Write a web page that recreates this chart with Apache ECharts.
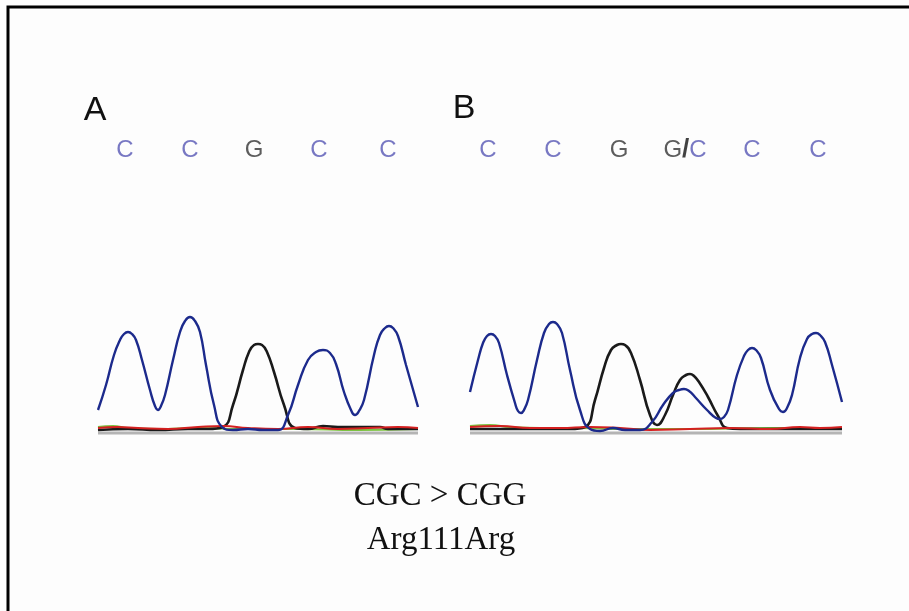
<!DOCTYPE html>
<html>
<head>
<meta charset="utf-8">
<script src="https://cdn.jsdelivr.net/npm/echarts@6/dist/echarts.min.js"></script>
<style>
  html, body { margin: 0; padding: 0; background: #fdfdfd; }
  #chart { width: 909px; height: 611px; }
</style>
</head>
<body>
<div id="chart"></div>
<script>
// base calls above each trace, with their position along the trace
const callsA = ["C", "C", "G", "C", "C"];
const callPosA = [27, 92, 156, 221, 290];
const callsB = ["C", "C", "G", "G/C", "C", "C"];
const callPosB = [18, 83, 149, 215, 282, 348];

// panel A traces [position, signal]
const blueA = [[0, 20], [8, 45], [16, 75], [22, 90], [26, 96], [30, 98], [34, 96], [38, 90], [44, 70],
  [52, 40], [57, 24], [60, 20], [63, 24], [67, 35], [75, 70], [82, 98], [87, 109], [92, 113],
  [97, 109], [102, 98], [108, 65], [116, 25], [124, 3], [135, 0], [150, 1], [165, 0], [180, 0],
  [190, 15], [200, 45], [210, 70], [218, 78], [225, 80], [232, 77], [238, 66], [246, 38],
  [253, 20], [257, 15], [261, 19], [266, 30], [276, 75], [282, 95], [287, 102], [291, 104],
  [295, 102], [300, 94], [308, 65], [320, 23]];
const blackA = [[0, 0], [30, 1], [60, 0], [90, 1], [110, 1], [125, 3], [135, 25], [145, 60], [151, 78],
  [156, 85], [160, 86], [164, 85], [169, 78], [176, 58], [186, 25], [197, 2], [210, 1], [225, 4],
  [240, 3], [260, 3], [282, 3], [290, 1], [320, 1]];
const redA = [[0, 2], [20, 3], [40, 2], [70, 1], [100, 3], [125, 4], [150, 2], [180, 1], [210, 3],
  [240, 1], [270, 2], [300, 3], [320, 2]];
const greenA = [[0, 3], [15, 4], [30, 2], [60, 1], [100, 2], [140, 1], [200, 1], [260, 0], [320, 1]];

// panel B traces [position, signal]
const blueB = [[0, 38], [8, 70], [13, 87], [17, 94], [21, 96], [25, 94], [29, 87], [37, 55], [45, 27],
  [48, 19], [51, 17], [54, 20], [58, 30], [67, 70], [74, 97], [79, 106], [83, 108], [87, 106],
  [92, 97], [100, 60], [110, 20], [120, 1], [130, -1], [143, 2], [155, 0], [170, 0], [182, 8],
  [193, 25], [203, 37], [209, 40], [214, 41], [219, 39], [225, 33], [237, 20], [246, 12],
  [250, 11], [254, 13], [258, 20], [267, 55], [274, 74], [278, 80], [282, 82], [286, 80],
  [291, 72], [300, 40], [309, 21], [313, 18], [317, 22], [322, 35], [330, 72], [337, 91],
  [342, 96], [346, 97], [350, 95], [355, 88], [362, 65], [372, 28]];
const blackB = [[0, 1], [50, 1], [100, 1], [115, 3], [125, 30], [134, 62], [141, 80], [147, 85],
  [151, 86], [155, 85], [161, 77], [170, 50], [180, 15], [187, 5], [195, 15], [203, 35],
  [210, 50], [216, 55], [220, 56], [224, 54], [229, 48], [238, 33], [248, 14], [257, 2],
  [270, 1], [372, 1]];
const redB = [[0, 3], [30, 4], [60, 2], [90, 2], [120, 3], [150, 2], [180, 0], [220, 1], [260, 2],
  [300, 1], [330, 3], [350, 2], [372, 3]];
const greenB = [[0, 4], [20, 5], [40, 3], [70, 2], [110, 2], [150, 1], [220, 1], [300, 2], [372, 2]];

const chart = echarts.init(document.getElementById("chart"));

function trace(idx, data, color, width) {
  return {
    type: "line", xAxisIndex: idx, yAxisIndex: idx, data: data, smooth: 0.5,
    symbol: "none", silent: true, lineStyle: { color: color, width: width }
  };
}

function callSeries(idx, calls, pos) {
  return {
    type: "scatter", xAxisIndex: idx, yAxisIndex: idx, symbolSize: 1, silent: true,
    itemStyle: { color: "transparent" },
    data: calls.map((c, i) => ({ value: [pos[i], 280], name: c })),
    label: {
      show: true, position: "inside", fontFamily: "Liberation Sans", fontSize: 24,
      formatter: p => {
        if (p.name === "G/C") return "{g|G}{s|/}{c|C}";
        return p.name === "G" ? "{g|G}" : "{c|C}";
      },
      rich: {
        g: { color: "#333333", fontSize: 24, fontFamily: "Liberation Sans" },
        c: { color: "#5656b4", fontSize: 24, fontFamily: "Liberation Sans" },
        s: { color: "#111111", fontSize: 26, fontWeight: "bold", fontFamily: "Liberation Sans" }
      }
    }
  };
}

function baseLine(idx, max) {
  return trace(idx, [[0, -3], [max, -3]], "#b4b4b4", 3);
}

const option = {
  backgroundColor: "#fdfdfd",
  animation: false,
  grid: [
    { left: 98, width: 320, top: 100, height: 335 },
    { left: 470, width: 372, top: 100, height: 335 }
  ],
  xAxis: [
    { type: "value", gridIndex: 0, min: 0, max: 320, show: false },
    { type: "value", gridIndex: 1, min: 0, max: 372, show: false }
  ],
  yAxis: [
    { type: "value", gridIndex: 0, min: -5, max: 330, show: false },
    { type: "value", gridIndex: 1, min: -5, max: 330, show: false }
  ],
  series: [
    baseLine(0, 320),
    trace(0, greenA, "#7cc242", 2),
    trace(0, blackA, "#1a1a1a", 2.6),
    trace(0, redA, "#d42020", 2),
    trace(0, blueA, "#1c2a8c", 2.4),
    callSeries(0, callsA, callPosA),
    baseLine(1, 372),
    trace(1, greenB, "#7cc242", 2),
    trace(1, blackB, "#1a1a1a", 2.6),
    trace(1, redB, "#d42020", 2),
    trace(1, blueB, "#1c2a8c", 2.4),
    callSeries(1, callsB, callPosB)
  ],
  graphic: [
    {
      type: "rect", silent: true,
      shape: { x: 8, y: 7, width: 940, height: 640 },
      style: { fill: "none", stroke: "#000", lineWidth: 3 }
    },
    {
      type: "text", x: 95, y: 111,
      style: { text: "A", fill: "#111", font: "34px 'Liberation Sans'", align: "center", verticalAlign: "middle" }
    },
    {
      type: "text", x: 464, y: 109,
      style: { text: "B", fill: "#111", font: "34px 'Liberation Sans'", align: "center", verticalAlign: "middle" }
    },
    {
      type: "text", x: 440, y: 496,
      style: { text: "CGC > CGG", fill: "#111", font: "33px 'Liberation Serif'", align: "center", verticalAlign: "middle" }
    },
    {
      type: "text", x: 441, y: 540,
      style: { text: "Arg111Arg", fill: "#111", font: "33px 'Liberation Serif'", align: "center", verticalAlign: "middle" }
    }
  ]
};

chart.setOption(option);
</script>
</body>
</html>
